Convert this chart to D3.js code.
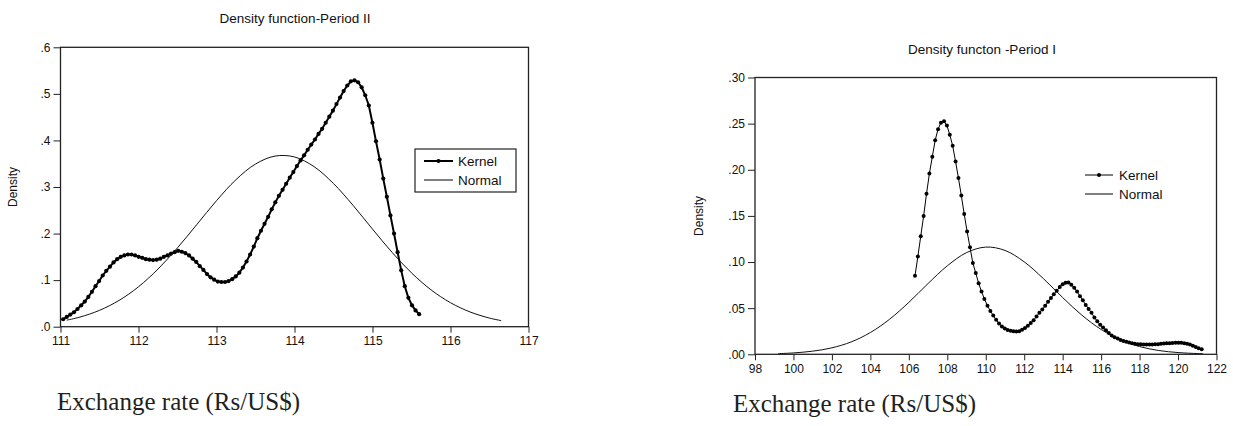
<!DOCTYPE html>
<html><head><meta charset="utf-8">
<script src="https://cdn.jsdelivr.net/npm/d3@7/dist/d3.min.js"></script>
<style>
html,body{margin:0;padding:0;background:#fff;}
svg{display:block;}
text{font-family:"Liberation Sans",Arial,sans-serif;fill:#111;}
.serif{font-family:"Liberation Serif","Times New Roman",serif;fill:#231f20;}
</style></head><body>
<svg id="chart" width="1233" height="426"></svg>
<script>
// ---------- Panel A: Period II ----------
const p2Title = "Density function-Period II";
const p2XTicks = [111,112,113,114,115,116,117];
const p2XTickLabels = ["111","112","113","114","115","116","117"];
const p2YTicks = [0,0.1,0.2,0.3,0.4,0.5,0.6];
const p2YTickLabels = [".0",".1",".2",".3",".4",".5",".6"];
const p2KernelX = [111.034,111.080,111.126,111.172,111.218,111.265,111.311,111.357,111.403,111.449,111.495,111.541,111.587,111.634,111.680,111.726,111.772,111.818,111.864,111.910,111.956,112.002,112.048,112.094,112.140,112.187,112.233,112.279,112.325,112.371,112.417,112.463,112.509,112.555,112.601,112.648,112.694,112.740,112.786,112.832,112.878,112.924,112.970,113.017,113.063,113.109,113.155,113.201,113.247,113.293,113.339,113.385,113.431,113.478,113.524,113.570,113.616,113.662,113.708,113.754,113.800,113.847,113.893,113.939,113.985,114.031,114.077,114.123,114.169,114.215,114.262,114.308,114.354,114.400,114.446,114.492,114.538,114.584,114.630,114.677,114.723,114.769,114.815,114.861,114.907,114.953,114.999,115.045,115.092,115.138,115.184,115.230,115.276,115.322,115.368,115.414,115.460,115.506,115.552,115.598];
const p2KernelY = [0.016,0.021,0.026,0.031,0.038,0.046,0.054,0.064,0.075,0.087,0.098,0.110,0.120,0.129,0.138,0.145,0.150,0.153,0.155,0.155,0.153,0.150,0.148,0.145,0.144,0.143,0.144,0.146,0.150,0.153,0.157,0.160,0.163,0.161,0.158,0.153,0.146,0.139,0.130,0.122,0.113,0.106,0.101,0.097,0.096,0.096,0.098,0.102,0.108,0.116,0.127,0.140,0.155,0.172,0.190,0.206,0.221,0.236,0.252,0.267,0.281,0.294,0.307,0.320,0.332,0.345,0.357,0.368,0.380,0.391,0.402,0.414,0.425,0.438,0.451,0.464,0.478,0.492,0.506,0.518,0.527,0.529,0.525,0.514,0.497,0.475,0.438,0.398,0.359,0.318,0.279,0.239,0.200,0.160,0.121,0.087,0.062,0.046,0.035,0.027];
const p2NormalX = [111.08,111.25,111.5,111.75,112,112.25,112.5,112.75,113,113.25,113.5,113.75,114,114.25,114.5,114.75,115,115.25,115.5,115.75,116,116.25,116.5,116.65];
const p2NormalY = [0.0141,0.0207,0.0351,0.0564,0.0857,0.1238,0.1695,0.2199,0.2706,0.3158,0.3493,0.3664,0.3645,0.3438,0.3074,0.2607,0.2096,0.1598,0.1156,0.0792,0.0515,0.0317,0.0185,0.0131];

// ---------- Panel B: Period I ----------
const p1Title = "Density functon -Period I";
const p1XTicks = [98,100,102,104,106,108,110,112,114,116,118,120,122];
const p1XTickLabels = ["98","100","102","104","106","108","110","112","114","116","118","120","122"];
const p1YTicks = [0,0.05,0.10,0.15,0.20,0.25,0.30];
const p1YTickLabels = [".00",".05",".10",".15",".20",".25",".30"];
const p1KernelX = [106.32,106.47,106.62,106.77,106.92,107.07,107.22,107.37,107.52,107.67,107.83,107.98,108.13,108.28,108.43,108.58,108.73,108.88,109.03,109.18,109.33,109.48,109.63,109.78,109.93,110.09,110.24,110.39,110.54,110.69,110.84,110.99,111.14,111.29,111.44,111.59,111.74,111.89,112.04,112.19,112.34,112.49,112.64,112.79,112.94,113.09,113.24,113.39,113.54,113.69,113.85,114.00,114.15,114.30,114.45,114.60,114.75,114.90,115.05,115.20,115.35,115.50,115.65,115.80,115.95,116.10,116.25,116.40,116.55,116.70,116.86,117.01,117.16,117.31,117.46,117.61,117.76,117.91,118.06,118.21,118.36,118.51,118.66,118.81,118.96,119.11,119.26,119.41,119.56,119.71,119.87,120.02,120.17,120.32,120.47,120.62,120.77,120.92,121.07,121.23];
const p1KernelY = [0.085,0.106,0.128,0.150,0.174,0.196,0.214,0.232,0.244,0.251,0.2525,0.248,0.238,0.226,0.209,0.191,0.172,0.152,0.133,0.116,0.099,0.088,0.077,0.068,0.060,0.0525,0.047,0.042,0.0375,0.0333,0.030,0.028,0.0263,0.0254,0.025,0.0248,0.025,0.0266,0.0286,0.031,0.034,0.0368,0.041,0.045,0.0486,0.0525,0.057,0.061,0.065,0.069,0.073,0.076,0.0775,0.0778,0.0755,0.072,0.068,0.063,0.0585,0.0535,0.049,0.045,0.040,0.0358,0.032,0.029,0.026,0.023,0.0205,0.0185,0.017,0.0155,0.0145,0.0135,0.0127,0.012,0.0115,0.011,0.0108,0.0106,0.0105,0.0105,0.0106,0.0108,0.011,0.0113,0.0116,0.0119,0.0121,0.0123,0.0125,0.0125,0.0124,0.0121,0.0115,0.0106,0.0093,0.0079,0.0066,0.0055];
const p1NormalX = [99.2,100,101,102,103,104,105,106,107,108,109,110,111,112,113,114,115,116,117,118,119,120,121,121.3];
const p1NormalY = [0.0007,0.0015,0.0034,0.0070,0.0134,0.0236,0.0380,0.0563,0.0767,0.0959,0.1102,0.1162,0.1126,0.1002,0.0820,0.0615,0.0424,0.0269,0.0156,0.0084,0.0041,0.0019,0.0008,0.0006];

const legendLabels = ["Kernel","Normal"];
const yAxisLabel = "Density";
const xCaption = "Exchange rate (Rs/US$)";

const svg = d3.select("#chart");
svg.append("rect").attr("width",1233).attr("height",426).attr("fill","#fff");

function panel(o){
  const g = svg.append("g");
  const x = d3.scaleLinear().domain(o.xDomain).range([o.left,o.right]);
  const y = d3.scaleLinear().domain(o.yDomain).range([o.bottom,o.top]);

  g.append("text").attr("x",o.titleX).attr("y",o.top-24)
    .attr("text-anchor","middle").style("font-size","13.5px").text(o.title);

  const ya = g.append("g").attr("transform",`translate(${o.left},0)`)
    .call(d3.axisLeft(y).tickValues(o.yTicks).tickFormat((d,i)=>o.yLabels[i]).tickSize(7).tickPadding(3).tickSizeOuter(0));
  ya.select(".domain").remove();
  ya.selectAll("text").style("font-size","12px").style("font-family","Liberation Sans, Arial, sans-serif").attr("fill","#111");
  ya.selectAll("line").attr("stroke","#222");

  const xa = g.append("g").attr("transform",`translate(0,${o.bottom})`)
    .call(d3.axisBottom(x).tickValues(o.xTicks).tickFormat((d,i)=>o.xLabels[i]).tickSize(6).tickPadding(4).tickSizeOuter(0));
  xa.select(".domain").remove();
  xa.selectAll("text").style("font-size","12px").style("font-family","Liberation Sans, Arial, sans-serif").attr("fill","#111");
  xa.selectAll("line").attr("stroke","#222");

  g.append("rect").attr("x",o.left).attr("y",o.top).attr("width",o.right-o.left).attr("height",o.bottom-o.top)
    .attr("fill","none").attr("stroke","#222").attr("stroke-width",1.3);

  g.append("text").attr("transform",`translate(${o.ylabX},${(o.top+o.bottom)/2}) rotate(-90)`)
    .attr("text-anchor","middle").style("font-size","12px").text(yAxisLabel);

  const line = d3.line().x(d=>x(d[0])).y(d=>y(d[1]));
  const smooth = d3.line().x(d=>x(d[0])).y(d=>y(d[1])).curve(d3.curveCatmullRom.alpha(0.5));
  const norm = o.nx.map((v,i)=>[v,o.ny[i]]);
  const kern = o.kx.map((v,i)=>[v,o.ky[i]]);
  g.append("path").attr("d",smooth(norm)).attr("fill","none").attr("stroke","#111").attr("stroke-width",1);
  g.append("path").attr("d",line(kern)).attr("fill","none").attr("stroke","#000").attr("stroke-width",o.kw);
  g.selectAll("circle.k").data(kern).join("circle").attr("class","k")
    .attr("cx",d=>x(d[0])).attr("cy",d=>y(d[1])).attr("r",o.dotR).attr("fill","#000");

  // legend
  const L = o.legend;
  if(L.box){
    g.append("rect").attr("x",L.x).attr("y",L.y).attr("width",L.w).attr("height",L.h)
      .attr("fill","#fff").attr("stroke","#222").attr("stroke-width",1.2);
  }
  legendLabels.forEach((lab,i)=>{
    const yy = L.row0 + i*L.dy;
    g.append("line").attr("x1",L.lx0).attr("x2",L.lx1).attr("y1",yy).attr("y2",yy)
      .attr("stroke","#000").attr("stroke-width", i===0?o.kw:1);
    if(i===0) g.append("circle").attr("cx",(L.lx0+L.lx1)/2).attr("cy",yy).attr("r",o.dotR).attr("fill","#000");
    g.append("text").attr("x",L.tx).attr("y",yy).attr("dy","0.36em").style("font-size","13.5px").text(lab);
  });

  svg.append("text").attr("class","serif").attr("x",o.capX).attr("y",o.capY)
    .style("font-size","25px").text(xCaption);
}

panel({title:p2Title,titleX:295,xDomain:[111,117],yDomain:[0,0.6],left:60.5,right:528.5,top:47.3,bottom:326.7,
  xTicks:p2XTicks,xLabels:p2XTickLabels,yTicks:p2YTicks,yLabels:p2YTickLabels,
  kx:p2KernelX,ky:p2KernelY,nx:p2NormalX,ny:p2NormalY,kw:2,dotR:2.1,ylabX:17,
  legend:{box:true,x:415,y:149,w:101,h:43,lx0:424,lx1:453,tx:458,row0:161,dy:19},
  capX:57,capY:410});

panel({title:p1Title,titleX:982,xDomain:[98,122],yDomain:[0,0.30],left:755,right:1216.5,top:77.5,bottom:354.3,
  xTicks:p1XTicks,xLabels:p1XTickLabels,yTicks:p1YTicks,yLabels:p1YTickLabels,
  kx:p1KernelX,ky:p1KernelY,nx:p1NormalX,ny:p1NormalY,kw:1,dotR:2,ylabX:703,
  legend:{box:false,lx0:1085,lx1:1113,tx:1119,row0:175,dy:19},
  capX:733,capY:412});
</script>
</body></html>
